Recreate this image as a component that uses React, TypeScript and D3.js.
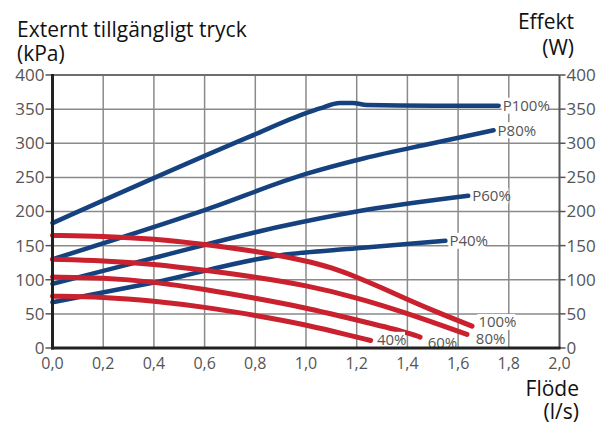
import React from "react";
import * as d3 from "d3";

const xTicks = [0, 0.2, 0.4, 0.6, 0.8, 1.0, 1.2, 1.4, 1.6, 1.8, 2.0];
const yTicks = [0, 50, 100, 150, 200, 250, 300, 350, 400];

const p100: [number, number][] = [[0, 183], [0.78, 310], [1.0, 344], [1.055, 351], [1.134, 359], [1.185, 359], [1.24, 356], [1.5, 355], [1.76, 355]];
const p80: [number, number][] = [[0, 130], [0.6, 202], [1.0, 255], [1.23, 278], [1.5, 300], [1.74, 319]];
const p60: [number, number][] = [[0, 94], [0.4, 132], [0.9, 178], [1.2, 200], [1.64, 223]];
const p40: [number, number][] = [[0, 67], [0.4, 96], [0.9, 136], [1.2, 146], [1.55, 157]];

const r100: [number, number][] = [[0, 165], [0.2, 164], [0.4, 160], [0.6, 152], [0.8, 142], [1.0, 128], [1.1, 118], [1.2, 104], [1.3, 88], [1.4, 71], [1.52, 52], [1.655, 32]];
const r80: [number, number][] = [[0, 130], [0.2, 128], [0.4, 123], [0.6, 114], [0.8, 104], [1.0, 92], [1.2, 74], [1.4, 51], [1.635, 20]];
const r60: [number, number][] = [[0, 104], [0.2, 103], [0.4, 97], [0.6, 86], [0.8, 73], [1.0, 59], [1.2, 41], [1.4, 23], [1.45, 16]];
const r40: [number, number][] = [[0, 76], [0.2, 75], [0.4, 69], [0.6, 60], [0.8, 48], [1.0, 34], [1.1, 25], [1.255, 11]];

const blueSeries = [
  { name: "P100%", data: p100 },
  { name: "P80%", data: p80 },
  { name: "P60%", data: p60 },
  { name: "P40%", data: p40 },
];
const redSeries = [
  { name: "100%", data: r100, lx: 1.68, ly: 38 },
  { name: "80%", data: r80, lx: 1.67, ly: 14 },
  { name: "60%", data: r60, lx: 1.48, ly: 8 },
  { name: "40%", data: r40, lx: 1.28, ly: 12 },
];

const BLUE = "#15427f";
const RED = "#c9212d";
const FONT = "'Open Sans', sans-serif";

export default function App() {
  const left = 52.5, right = 559.5, top = 75, bottom = 348;
  const x = d3.scaleLinear().domain([0, 2]).range([left, right]);
  const y = d3.scaleLinear().domain([0, 400]).range([bottom, top]);
  const line = d3.line<[number, number]>().x(d => x(d[0])).y(d => y(d[1])).curve(d3.curveMonotoneX);
  const smooth = d3.line<[number, number]>().x(d => x(d[0])).y(d => y(d[1])).curve(d3.curveBasis);
  const fmt = (v: number) => v.toFixed(1).replace(".", ",");

  return (
    <svg width={598} height={425} style={{ position: "absolute", left: 0, top: 0, fontFamily: FONT }}>
      <rect width={598} height={425} fill="#fff" />
      {/* grid */}
      {xTicks.slice(1, -1).map(t => (
        <line key={"gx" + t} x1={x(t)} x2={x(t)} y1={top} y2={bottom} stroke="#8a8a8a" strokeWidth={1.5} />
      ))}
      {yTicks.slice(1, -1).map(t => (
        <line key={"gy" + t} x1={left} x2={right} y1={y(t)} y2={y(t)} stroke="#8a8a8a" strokeWidth={1.5} />
      ))}
      <line x1={left} x2={right} y1={top} y2={top} stroke="#6e6e6e" strokeWidth={1.8} />
      <line x1={right} x2={right} y1={top} y2={bottom} stroke="#555" strokeWidth={2} />
      {/* ticks */}
      {yTicks.map(t => (
        <g key={"yt" + t}>
          <line x1={left - 7} x2={left} y1={y(t)} y2={y(t)} stroke="#555" strokeWidth={1.5} />
          <line x1={right} x2={right + 6} y1={y(t)} y2={y(t)} stroke="#555" strokeWidth={1.5} />
          <text x={left - 8} y={y(t)} dy="0.35em" textAnchor="end" fontSize={17} fill="#555">{t}</text>
          <text x={right + 7} y={y(t)} dy="0.35em" textAnchor="start" fontSize={17} fill="#555">{t}</text>
        </g>
      ))}
      {xTicks.map(t => (
        <text key={"xt" + t} x={x(t)} y={369} textAnchor="middle" fontSize={16} fill="#555">{fmt(t)}</text>
      ))}
      {/* lines */}
      {blueSeries.map(s => (
        <path key={s.name} d={line(s.data) || ""} fill="none" stroke={BLUE} strokeWidth={4.5} strokeLinecap="round" />
      ))}
      {redSeries.map(s => (
        <path key={s.name} d={smooth(s.data) || ""} fill="none" stroke={RED} strokeWidth={5} strokeLinecap="round" />
      ))}
      {/* labels */}
      {blueSeries.map(s => {
        const last = s.data[s.data.length - 1];
        const lx = x(last[0]) + 4;
        const ly = y(last[1]);
        const w = s.name.length * 8.8 + 2;
        return (
          <g key={"l" + s.name}>
            <rect x={lx - 1} y={ly - 8} width={w} height={16} fill="#fff" />
            <text x={lx} y={ly} dy="0.35em" fontSize={15} fill="#555">{s.name}</text>
          </g>
        );
      })}
      {redSeries.map(s => {
        const lx = x(s.lx);
        const ly = y(s.ly);
        const w = s.name.length * 9 + 2;
        return (
          <g key={"rl" + s.name}>
            <rect x={lx - 1} y={ly - 8} width={w} height={16} fill="#fff" />
            <text x={lx} y={ly} dy="0.35em" fontSize={15} fill="#555">{s.name}</text>
          </g>
        );
      })}
      {/* axes */}
      <line x1={left} x2={left} y1={top - 1} y2={bottom + 1.5} stroke="#222" strokeWidth={3} />
      <line x1={left - 1.5} x2={right + 1} y1={bottom} y2={bottom} stroke="#222" strokeWidth={2.8} />
      {/* titles */}
      <text x={17} y={37} fontSize={21} fill="#111">Externt tillgängligt tryck</text>
      <text x={17} y={61} fontSize={21} fill="#111">(kPa)</text>
      <text x={574} y={29} fontSize={21} fill="#111" textAnchor="end">Effekt</text>
      <text x={574} y={55} fontSize={21} fill="#111" textAnchor="end">(W)</text>
      <text x={579} y={396} fontSize={21} fill="#111" textAnchor="end">Flöde</text>
      <text x={579} y={419} fontSize={21} fill="#111" textAnchor="end">(l/s)</text>
    </svg>
  );
}
